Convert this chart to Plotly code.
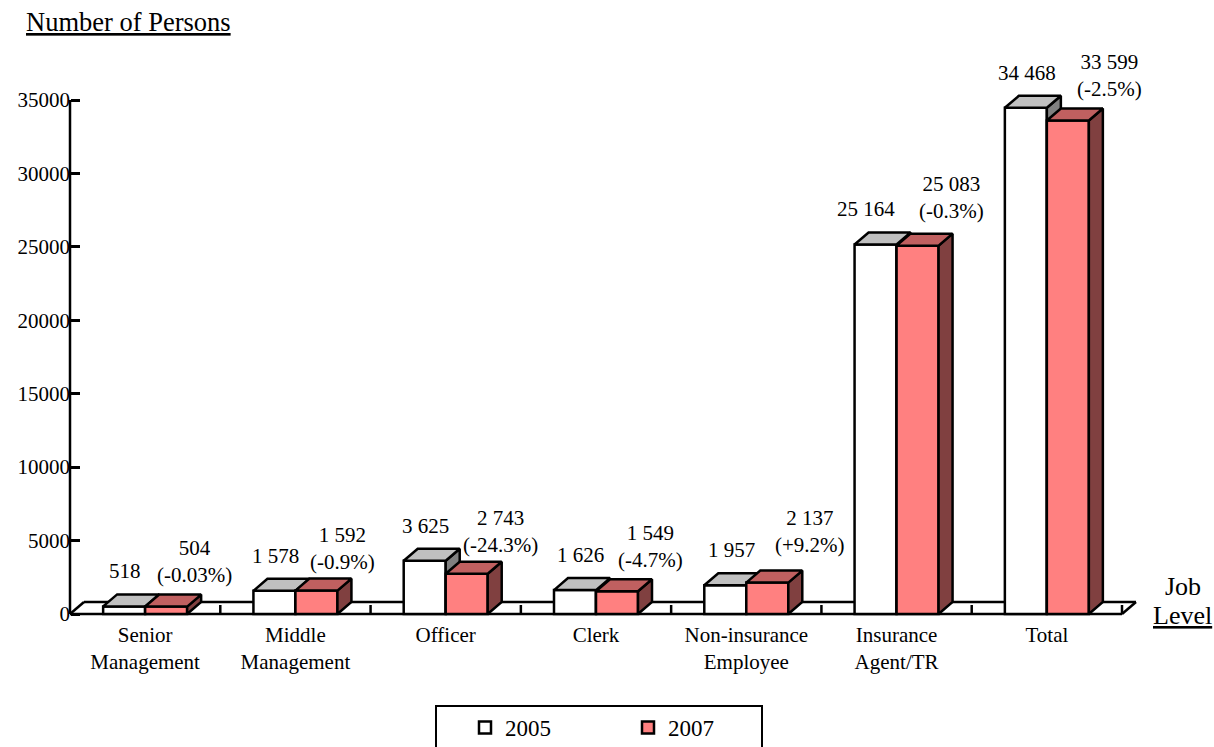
import plotly.graph_objects as go

# ---- data -------------------------------------------------------------
categories = ["Senior<br>Management", "Middle<br>Management", "Officer", "Clerk",
              "Non-insurance<br>Employee", "Insurance<br>Agent/TR", "Total"]
persons_2005 = [518, 1578, 3625, 1626, 1957, 25164, 34468]
persons_2007 = [504, 1592, 2743, 1549, 2137, 25083, 33599]
change_2007 = ["-0.03%", "-0.9%", "-24.3%", "-4.7%", "+9.2%", "-0.3%", "-2.5%"]
y_ticks = [0, 5000, 10000, 15000, 20000, 25000, 30000, 35000]

# ---- page geometry (pixels) -------------------------------------------
W, H = 1214, 747
PLOT_L, PLOT_R, PLOT_T, PLOT_B = 60, 1145, 40, 620
ORIGIN_X, ORIGIN_Y = 70, 614            # where category 0 / value 0 sit
PX_PER_CAT = 1052 / 7
PX_PER_UNIT = 514 / 35000
X_RANGE = [(PLOT_L - ORIGIN_X) / PX_PER_CAT, (PLOT_R - ORIGIN_X) / PX_PER_CAT]
Y_RANGE = [(ORIGIN_Y - PLOT_B) / PX_PER_UNIT, (ORIGIN_Y - PLOT_T) / PX_PER_UNIT]
DEPTH_X = 14 / PX_PER_CAT               # 3-D depth of bars and floor
DEPTH_Y = 12 / PX_PER_UNIT
BAR_W = 42 / PX_PER_CAT
N_CAT = len(categories)
centers = [i + 0.5 for i in range(N_CAT)]

FONT = "Liberation Serif"
EDGE = dict(color="black", width=2.5)

# label nudges (pixels) for the value call-outs
nudge_2005 = [1, 1, 1, 5, 6, -10, 1]
nudge_2007_x = [28, 26, 34, 33, 43, 34, 42]
nudge_2007_y = [45, 42, 42, 45, 51, 48, 45]


def px_to_paper_x(px):
    return (px - PLOT_L) / (PLOT_R - PLOT_L)


def px_to_paper_y(py):
    return (PLOT_B - py) / (PLOT_B - PLOT_T)


def fmt(v):
    return f"{v:,}".replace(",", " ")


def faces(lefts, values):
    """Top and right-side parallelograms of each 3-D column."""
    tx, ty, sx, sy = [], [], [], []
    for x0, h in zip(lefts, values):
        x1 = x0 + BAR_W
        tx += [x0, x1, x1 + DEPTH_X, x0 + DEPTH_X, x0, None]
        ty += [h, h, h + DEPTH_Y, h + DEPTH_Y, h, None]
        sx += [x1, x1 + DEPTH_X, x1 + DEPTH_X, x1, x1, None]
        sy += [0, DEPTH_Y, h + DEPTH_Y, h, 0, None]
    return (tx, ty), (sx, sy)


fig = go.Figure()

series = [
    ("2005", persons_2005, -BAR_W, "#FFFFFF", "#C0C0C0", "#808080", "x", "y"),
    ("2007", persons_2007, 0.0, "#FF8080", "#C06060", "#804040", "x2", "y2"),
]
for name, vals, off, front, top, side, xa, ya in series:
    fig.add_trace(go.Bar(
        x=centers, y=vals, offset=off, width=BAR_W, name=name,
        marker=dict(color=front, line=EDGE), xaxis=xa, yaxis=ya,
        hoverinfo="x+y"))
    lefts = [c + off for c in centers]
    (tx, ty), (sx, sy) = faces(lefts, vals)
    fig.add_trace(go.Scatter(x=sx, y=sy, mode="lines", fill="toself",
                             fillcolor=side, line=EDGE, showlegend=False,
                             hoverinfo="skip", xaxis=xa, yaxis=ya))
    fig.add_trace(go.Scatter(x=tx, y=ty, mode="lines", fill="toself",
                             fillcolor=top, line=EDGE, showlegend=False,
                             hoverinfo="skip", xaxis=xa, yaxis=ya))

# ---- floor, value-axis line and category ticks -------------------------
shapes = []


def seg(x0, y0, x1, y1):
    shapes.append(dict(type="line", xref="x", yref="y", x0=x0, y0=y0,
                       x1=x1, y1=y1, line=EDGE, layer="below"))


seg(0, 0, N_CAT, 0)
seg(DEPTH_X, DEPTH_Y, N_CAT + DEPTH_X, DEPTH_Y)
seg(0, 0, DEPTH_X, DEPTH_Y)
seg(N_CAT, 0, N_CAT + DEPTH_X, DEPTH_Y)
seg(0, 0, 0, y_ticks[-1])
for k in range(1, N_CAT + 1):
    seg(k, 0, k, 9 / PX_PER_UNIT)

# legend frame (runs off the bottom edge of the page)
shapes.append(dict(type="rect", xref="paper", yref="paper",
                   x0=px_to_paper_x(436), x1=px_to_paper_x(762),
                   y0=px_to_paper_y(770), y1=px_to_paper_y(706),
                   line=dict(color="black", width=2), fillcolor="white",
                   layer="above"))

# ---- value labels ------------------------------------------------------
annotations = []
for i, c in enumerate(centers):
    annotations.append(dict(
        x=c - BAR_W / 2, y=persons_2005[i], xref="x", yref="y",
        text=fmt(persons_2005[i]), showarrow=False, xanchor="center",
        yanchor="middle", xshift=nudge_2005[i], yshift=35,
        font=dict(family=FONT, size=21, color="black")))
    annotations.append(dict(
        x=c + BAR_W / 2, y=persons_2007[i], xref="x", yref="y",
        text=f"{fmt(persons_2007[i])}<br>({change_2007[i]})", showarrow=False,
        xanchor="center", yanchor="middle", xshift=nudge_2007_x[i],
        yshift=nudge_2007_y[i],
        font=dict(family=FONT, size=21, color="black")))

# axis titles
annotations.append(dict(
    x=px_to_paper_x(24), y=px_to_paper_y(22), xref="paper", yref="paper",
    text="<u>Number of Persons</u>", showarrow=False, xanchor="left",
    yanchor="middle", font=dict(family=FONT, size=26.5, color="black")))
annotations.append(dict(
    x=px_to_paper_x(1183), y=px_to_paper_y(586), xref="paper", yref="paper",
    text="Job", showarrow=False, xanchor="center", yanchor="middle",
    font=dict(family=FONT, size=26, color="black")))
annotations.append(dict(
    x=px_to_paper_x(1182), y=px_to_paper_y(615), xref="paper", yref="paper",
    text="<u>Level</u>", showarrow=False, xanchor="center", yanchor="middle",
    font=dict(family=FONT, size=26, color="black")))

hidden = dict(visible=False, showgrid=False, zeroline=False)
fig.update_layout(
    width=W, height=H,
    margin=dict(l=PLOT_L, r=W - PLOT_R, t=PLOT_T, b=H - PLOT_B, pad=0,
                autoexpand=False),
    paper_bgcolor="white", plot_bgcolor="white",
    showlegend=True,
    xaxis=dict(range=X_RANGE, tickvals=centers, ticktext=categories,
               ticks="", showline=False, showgrid=False, zeroline=False,
               tickfont=dict(family=FONT, size=21, color="black"),
               fixedrange=True),
    yaxis=dict(range=Y_RANGE, anchor="free", position=px_to_paper_x(ORIGIN_X),
               tickvals=y_ticks, ticktext=[str(t) for t in y_ticks],
               ticks="inside", ticklen=9, tickwidth=2.5, tickcolor="black",
               showline=False, showgrid=False, zeroline=False,
               tickfont=dict(family=FONT, size=21, color="black"),
               fixedrange=True),
    xaxis2=dict(overlaying="x", range=X_RANGE, **hidden),
    yaxis2=dict(overlaying="y", range=Y_RANGE, anchor="x2", **hidden),
    legend=dict(orientation="h", x=px_to_paper_x(465), xanchor="left",
                y=px_to_paper_y(706), yanchor="top",
                borderwidth=0, bgcolor="rgba(0,0,0,0)",
                font=dict(family=FONT, size=23, color="black"),
                entrywidth=118, entrywidthmode="pixels"),
    annotations=annotations,
    shapes=shapes,
)

fig.write_html("out.html")
